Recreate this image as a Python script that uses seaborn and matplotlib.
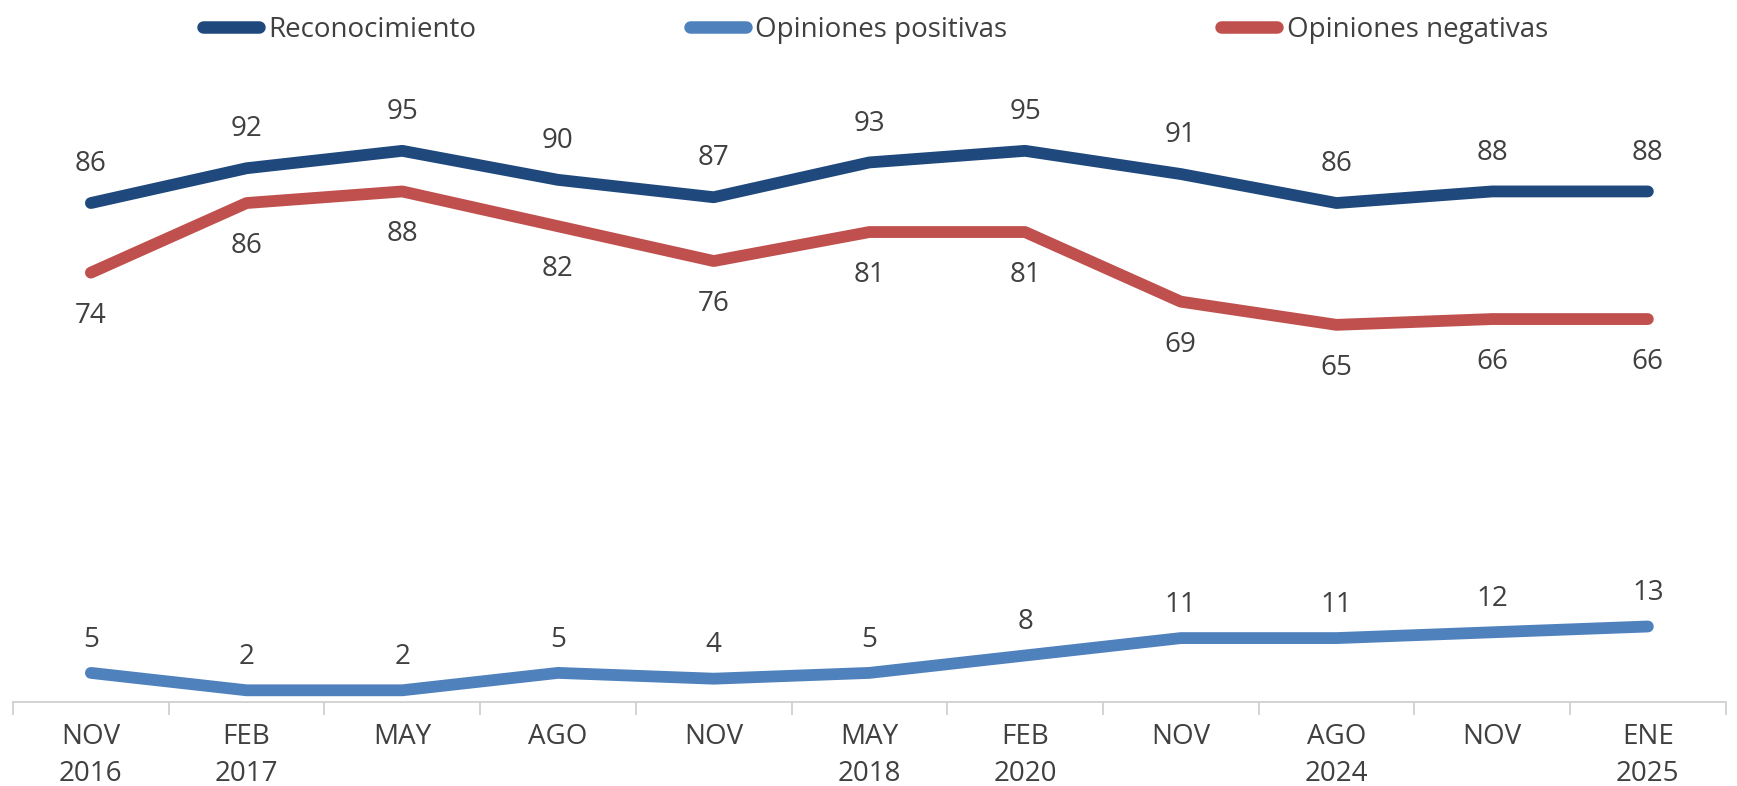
import pandas as pd
import matplotlib.pyplot as plt
import seaborn as sns
from matplotlib.lines import Line2D
from matplotlib.ticker import FixedLocator

# -------------------------------
# Data
# -------------------------------
etiquetas = ["NOV\n2016", "FEB\n2017", "MAY", "AGO", "NOV", "MAY\n2018",
             "FEB\n2020", "NOV", "AGO\n2024", "NOV", "ENE\n2025"]
reconocimiento = [86, 92, 95, 90, 87, 93, 95, 91, 86, 88, 88]
positivas = [5, 2, 2, 5, 4, 5, 8, 11, 11, 12, 13]
negativas = [74, 86, 88, 82, 76, 81, 81, 69, 65, 66, 66]

series = ["Reconocimiento", "Opiniones positivas", "Opiniones negativas"]
colores = {"Reconocimiento": "#1F497D",
           "Opiniones positivas": "#4F81BD",
           "Opiniones negativas": "#C0504D"}

pos = list(range(len(etiquetas)))
df = pd.DataFrame({
    "pos": pos * 3,
    "valor": reconocimiento + positivas + negativas,
    "serie": [series[0]] * 11 + [series[1]] * 11 + [series[2]] * 11,
})

# -------------------------------
# Style
# -------------------------------
sns.set_style("white")
plt.rcParams["font.family"] = ["Open Sans", "DejaVu Sans"]
gris = "#404040"
fs = 20

fig = plt.figure(figsize=(17.37, 7.86), dpi=100)
ax = fig.add_axes([0.0075, 0.107, 0.986, 0.738])

sns.lineplot(data=df, x="pos", y="valor", hue="serie", palette=colores,
             linewidth=8.5, solid_capstyle="round", solid_joinstyle="round",
             legend=False, ax=ax, sort=False)

ax.set_xlim(-0.5, len(etiquetas) - 0.5)
ax.set_ylim(0, 100)

# data labels
for x, v in zip(pos, reconocimiento):
    ax.annotate(str(v), (x, v), xytext=(0, 28), textcoords="offset points",
                ha="center", va="center", fontsize=fs, color=gris)
for x, v in zip(pos, negativas):
    ax.annotate(str(v), (x, v), xytext=(0, -31), textcoords="offset points",
                ha="center", va="center", fontsize=fs, color=gris)
for x, v in zip(pos, positivas):
    ax.annotate(str(v), (x, v), xytext=(0, 24), textcoords="offset points",
                ha="center", va="center", fontsize=fs, color=gris)

# axes
for s in ["top", "right", "left"]:
    ax.spines[s].set_visible(False)
ax.spines["bottom"].set_color("#D0D0D0")
ax.spines["bottom"].set_linewidth(1.3)
ax.set_yticks([])
ax.set_xticks(pos)
ax.set_xticklabels(etiquetas, fontsize=fs, color=gris, linespacing=1.45)
ax.xaxis.set_minor_locator(FixedLocator([p - 0.5 for p in pos] + [len(pos) - 0.5]))
ax.tick_params(axis="x", which="major", length=0, pad=15)
ax.tick_params(axis="x", which="minor", length=9, width=1.3, color="#D0D0D0",
               bottom=True)
ax.set_xlabel("")
ax.set_ylabel("")

# legend
handles = [Line2D([0], [0], color=colores[s], linewidth=9, solid_capstyle="round")
           for s in series]
fig.legend(handles, series, loc="upper center", bbox_to_anchor=(0.504, 1.012),
           ncol=3, frameon=False, fontsize=fs, labelcolor=gris,
           handlelength=2.0, handletextpad=0.35, columnspacing=7.7)

fig.savefig("out.png", dpi=100)
